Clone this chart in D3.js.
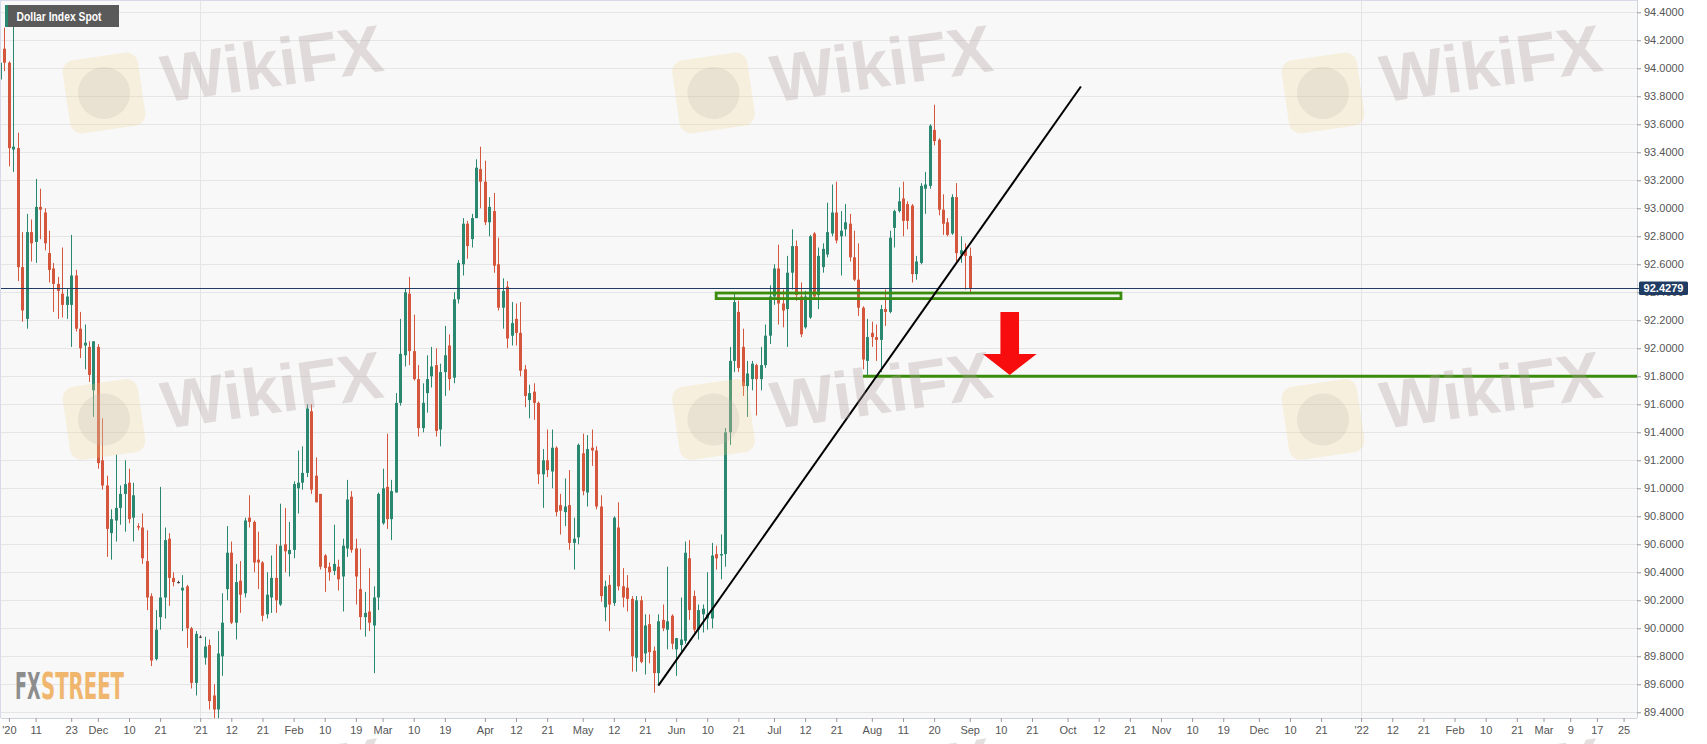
<!DOCTYPE html>
<html><head><meta charset="utf-8">
<script src="https://cdn.jsdelivr.net/npm/d3@7"></script>
<style>
html,body{margin:0;padding:0;background:#fff;}
svg{display:block;font-family:"Liberation Sans",Arial,sans-serif;}
</style></head><body>
<svg id="chart" width="1707" height="744"></svg>
<script>
// ---------------- DATA ----------------
const seriesName = "Dollar Index Spot";
const firstCandleDate = "2020-10-30";   // candles follow on consecutive weekdays
const lastPrice = 92.4279;

// Oct 30 + Nov 2020
const opens = [
 93.92,94.14,94.04,93.42,93.43,92.58,92.21,92.83,92.76,93.01,92.97,92.68,92.57,92.46,92.39,92.31,92.31,92.52,92.14,92.02,92.01,91.70,
 // Dec 2020
 92.01,91.20,91.02,90.68,90.77,90.86,90.96,91.04,90.79,90.73,90.72,90.48,90.23,89.78,90.08,90.22,90.64,90.36,90.33,90.27,90.30,90.00,89.61,
 // Jan 2021
 89.94,89.79,89.88,89.52,89.42,89.80,90.28,90.54,90.04,90.34,90.25,90.79,90.76,90.49,90.47,90.10,90.22,90.36,90.17,90.60,90.53,
 // Feb
 90.56,91.00,91.04,91.11,91.55,91.09,90.96,90.52,90.44,90.41,90.44,90.37,90.57,90.94,90.57,90.28,90.08,90.12,90.02,90.22,
 // Mar
 90.75,91.01,90.78,90.97,91.61,91.95,92.39,91.98,91.78,91.43,91.68,91.80,91.88,91.42,91.83,92.02,91.79,92.35,92.60,92.89,92.78,92.93,93.28,
 // Apr
 93.19,92.90,92.98,92.60,92.29,92.44,92.09,92.21,92.11,91.85,91.63,91.69,91.61,91.10,91.20,91.12,91.29,90.88,90.83,90.88,90.61,90.65,
 // May
 91.25,90.97,91.29,91.27,90.87,90.15,90.31,90.18,90.72,90.30,90.29,90.21,89.79,90.20,89.82,90.03,89.84,89.68,90.06,89.99,90.09,
 // Jun
 89.85,89.88,89.91,90.50,90.23,89.99,90.10,90.07,90.07,90.53,90.52,90.53,91.40,91.91,92.26,92.01,91.73,91.78,91.88,91.78,91.88,92.09,
 // Jul
 92.37,92.57,92.32,92.28,92.54,92.73,92.37,92.15,92.22,92.82,92.38,92.58,92.67,92.82,92.97,92.80,92.85,92.89,92.65,92.49,92.29,91.91,
 // Aug
 92.11,92.08,92.06,92.28,92.26,92.86,92.98,93.07,93.03,93.02,92.53,92.61,93.14,93.16,93.56,93.49,92.99,92.90,92.82,93.08,92.67,92.70,
 // Sep
 92.66
];
const highs = [
 94.10,94.29,94.05,94.31,93.54,92.83,92.96,92.92,93.21,93.14,93.00,92.84,92.61,92.51,92.72,92.43,92.81,92.56,92.26,92.17,92.05,92.05,
 92.03,91.50,91.09,90.85,91.24,91.02,91.20,91.14,91.04,90.75,90.82,90.70,90.25,90.13,91.01,90.72,90.68,90.40,90.34,90.38,90.31,90.01,89.98,
 89.95,89.94,89.92,89.60,89.98,90.25,90.73,90.62,90.46,90.48,90.79,90.95,90.77,90.69,90.48,90.40,90.52,90.60,90.89,90.86,90.76,
 91.05,91.27,91.30,91.60,91.60,91.22,90.96,90.53,90.47,90.74,90.49,90.64,91.06,90.98,90.64,90.57,90.26,90.43,90.30,90.97,
 91.14,91.39,91.06,91.68,92.21,92.43,92.51,92.24,91.88,91.75,91.95,92.01,92.00,91.89,92.16,92.10,92.40,92.63,92.93,92.91,92.96,93.35,93.44,
 93.34,93.08,93.11,92.79,92.50,92.48,92.33,92.32,92.33,91.88,91.74,91.75,91.62,91.28,91.42,91.42,91.30,90.96,91.07,91.13,90.79,91.32,
 91.39,91.38,91.42,91.30,90.95,90.34,90.38,90.80,90.90,90.43,90.38,90.23,90.23,90.23,90.10,90.10,89.87,90.10,90.17,90.44,90.10,
 89.93,90.22,90.62,90.63,90.27,90.17,90.17,90.40,90.61,90.59,90.67,91.43,92.01,92.39,92.34,92.14,91.91,91.91,91.89,92.01,92.17,92.45,
 92.60,92.74,92.42,92.66,92.85,92.77,92.47,92.41,92.81,92.83,92.72,92.75,93.04,93.17,93.19,92.98,93.03,92.96,92.84,92.75,92.30,92.21,
 92.19,92.17,92.31,92.42,92.84,92.99,93.15,93.19,93.05,93.03,92.66,93.18,93.26,93.60,93.74,93.50,93.10,92.93,93.10,93.18,92.80,92.75,
 92.72
];
const lows = [
 93.65,93.98,93.30,93.26,92.48,92.19,92.14,92.62,92.61,92.78,92.70,92.47,92.26,92.21,92.22,92.21,92.01,92.12,91.93,91.85,91.76,91.51,
 91.14,90.99,90.51,90.49,90.62,90.74,90.69,90.75,90.62,90.70,90.46,90.13,89.73,89.77,89.99,90.07,90.16,90.30,90.32,89.98,89.86,89.57,89.52,
 89.93,89.74,89.42,89.20,89.20,89.66,90.20,90.03,89.92,90.11,90.22,90.72,90.40,90.28,90.05,90.07,90.11,90.11,90.16,90.40,90.37,
 90.50,90.82,90.99,91.08,90.96,90.90,90.42,90.26,90.34,90.38,90.27,90.12,90.51,90.54,90.17,89.99,89.94,89.98,89.68,90.13,
 90.74,90.71,90.63,90.97,91.59,91.87,91.88,91.77,91.37,91.40,91.54,91.72,91.37,91.30,91.66,91.70,91.75,92.32,92.52,92.64,92.72,92.93,93.00,
 92.88,92.80,92.54,92.27,92.14,92.00,92.02,92.02,91.80,91.58,91.50,91.49,91.03,90.86,91.08,91.00,90.80,90.67,90.73,90.56,90.42,90.60,
 90.95,90.87,91.16,90.85,90.19,90.05,89.98,90.16,90.27,90.15,90.12,89.69,89.69,89.75,89.67,89.75,89.54,89.60,89.98,89.85,89.85,
 89.66,89.82,89.89,90.06,89.97,89.92,89.97,89.99,90.00,90.42,90.35,90.44,91.31,91.83,91.83,91.66,91.51,91.70,91.52,91.70,91.86,92.03,
 92.31,92.17,92.15,92.01,92.42,92.34,92.08,92.14,92.21,92.36,92.28,92.54,92.65,92.80,92.75,92.52,92.80,92.62,92.48,92.23,91.85,91.80,
 92.01,91.91,91.83,92.16,92.25,92.72,92.97,92.80,92.85,92.47,92.49,92.60,92.96,93.14,93.45,92.95,92.81,92.80,92.81,92.62,92.61,92.42,
 92.39
];
const closes = [
 94.04,94.04,93.43,93.44,92.58,92.27,92.83,92.75,93.01,92.99,92.75,92.56,92.46,92.41,92.31,92.37,92.52,92.14,92.00,92.04,91.81,92.05,
 91.18,91.02,90.71,90.78,90.86,90.96,91.03,90.78,90.95,90.72,90.50,90.22,89.77,89.99,90.22,90.63,90.36,90.33,90.33,90.29,90.00,89.61,89.96,
 89.94,89.87,89.48,89.42,89.82,90.04,90.54,90.04,90.33,90.24,90.77,90.76,90.47,90.47,90.09,90.24,90.36,90.20,90.59,90.55,90.56,
 91.03,91.04,91.11,91.57,90.99,90.90,90.44,90.43,90.40,90.46,90.35,90.59,90.92,90.56,90.37,90.08,90.11,90.04,90.22,90.96,
 91.00,90.78,90.98,91.61,91.96,92.40,91.98,91.78,91.43,91.61,91.78,91.87,91.41,91.83,91.95,91.78,92.35,92.61,92.89,92.73,92.93,93.29,93.19,
 92.90,93.01,92.59,92.29,92.41,92.07,92.18,92.11,91.84,91.66,91.68,91.61,91.10,91.20,91.13,91.29,90.83,90.84,90.87,90.61,90.64,91.31,
 90.98,91.28,91.27,90.87,90.23,90.30,90.17,90.79,90.30,90.22,90.21,89.80,90.20,89.76,90.02,89.83,89.68,90.05,90.00,90.05,89.89,
 89.93,89.92,90.54,90.13,89.99,90.13,90.14,90.10,90.52,90.50,90.53,91.40,91.91,92.33,91.86,91.73,91.82,91.89,91.78,91.88,92.09,92.37,
 92.57,92.32,92.27,92.54,92.73,92.38,92.10,92.37,92.80,92.37,92.66,92.71,92.83,92.97,92.77,92.84,92.90,92.65,92.49,92.29,91.92,92.08,
 92.08,92.06,92.28,92.26,92.79,92.98,93.05,92.91,92.91,92.53,92.62,93.16,93.17,93.59,93.48,92.99,92.89,92.81,93.08,92.68,92.70,92.66,
 92.4279
];

const yTicks = [89.4,89.6,89.8,90.0,90.2,90.4,90.6,90.8,91.0,91.2,91.4,91.6,91.8,92.0,92.2,92.4,92.6,92.8,93.0,93.2,93.4,93.6,93.8,94.0,94.2,94.4];
const xTickDates = ["2020-11-03","2020-11-11","2020-11-23","2020-12-01","2020-12-10","2020-12-21",
 "2021-01-01","2021-01-12","2021-01-21","2021-02-01","2021-02-10","2021-02-19","2021-03-01","2021-03-10","2021-03-19",
 "2021-04-01","2021-04-12","2021-04-21","2021-05-03","2021-05-12","2021-05-21","2021-06-01","2021-06-10","2021-06-21",
 "2021-07-01","2021-07-12","2021-07-21","2021-08-02","2021-08-11","2021-08-20","2021-09-01","2021-09-10","2021-09-21",
 "2021-10-01","2021-10-12","2021-10-21","2021-11-01","2021-11-10","2021-11-19","2021-12-01","2021-12-10","2021-12-21",
 "2022-01-03","2022-01-12","2022-01-21","2022-02-01","2022-02-10","2022-02-21","2022-03-01","2022-03-09","2022-03-17","2022-03-25"];
const xTickLabels = ["'20","11","23","Dec","10","21",
 "'21","12","21","Feb","10","19","Mar","10","19",
 "Apr","12","21","May","12","21","Jun","10","21",
 "Jul","12","21","Aug","11","20","Sep","10","21",
 "Oct","12","21","Nov","10","19","Dec","10","21",
 "'22","12","21","Feb","10","21","Mar","9","17","25"];
const yearLines = ["2021-01-01","2022-01-03"];

// drawn annotations (in data units)
const supportZone = {from:"2021-06-14", to:"2021-10-19", low:92.355, high:92.395};
const supportLine = {from:"2021-07-29", level:91.80};
const trendLine = [{date:"2021-05-26", value:89.59},{date:"2021-10-06", value:93.87}];
const downArrow = {date:"2021-09-14", top:92.26, base:91.96, tip:91.81};

// ---------------- HELPERS ----------------
const BASE = Date.UTC(2021,0,1);
function parseUTC(s){const [Y,M,D]=s.split('-').map(Number);return Date.UTC(Y,M-1,D);}
function isWeekday(t){const w=new Date(t).getUTCDay();return w!==0&&w!==6;}
function wdIndex(s){ // weekday offset from 2021-01-01
  const t=parseUTC(s); let n=0;
  if(t>=BASE){for(let d=BASE;d<t;d+=864e5) if(isWeekday(d)) n++;}
  else{for(let d=BASE-864e5;d>=t;d-=864e5) if(isWeekday(d)) n--;}
  return n;
}
const startIdx = wdIndex(firstCandleDate);
const candles = closes.map((c,i)=>({i:startIdx+i,o:opens[i],h:highs[i],l:lows[i],c:c}));

// ---------------- LAYOUT ----------------
const W=1707,H=744, PL=1, PT=1, PR=1637, PB=718;
const x = d3.scaleLinear().domain([-44.78, 323.02]).range([PL, PR]);
const y = d3.scaleLinear().domain([89.4, 94.4]).range([712.3, 12.3]);

const UP="#2b8870", DN="#d4573d", NAVY="#203c63", GRID="#e5e5e5", GREEN="#3b8b0c";
const svg = d3.select("#chart");

svg.append("rect").attr("x",0).attr("y",0).attr("width",W).attr("height",H).attr("fill","#fff");
svg.append("rect").attr("x",PL).attr("y",PT).attr("width",PR-PL).attr("height",PB-PT).attr("fill","#f8f8f8");

const defs = svg.append("defs");
defs.append("clipPath").attr("id","plotclip").append("rect")
  .attr("x",PL).attr("y",PT).attr("width",PR-PL).attr("height",PB-PT);

// grid
const grid = svg.append("g");
grid.selectAll("line.h").data(yTicks).join("line")
  .attr("x1",PL).attr("x2",PR).attr("y1",d=>Math.round(y(d))+0.5).attr("y2",d=>Math.round(y(d))+0.5)
  .attr("stroke",GRID).attr("stroke-width",1);
grid.selectAll("line.v").data(yearLines).join("line")
  .attr("x1",d=>Math.round(x(wdIndex(d)))+0.5).attr("x2",d=>Math.round(x(wdIndex(d)))+0.5)
  .attr("y1",PT).attr("y2",PB).attr("stroke",GRID).attr("stroke-width",1);

// plot frame
svg.append("line").attr("x1",PL).attr("x2",PR).attr("y1",0.5).attr("y2",0.5).attr("stroke","#d9d9ea");
svg.append("line").attr("x1",0.5).attr("x2",0.5).attr("y1",0).attr("y2",PB).attr("stroke","#d9d9ea");
svg.append("line").attr("x1",PR+0.5).attr("x2",PR+0.5).attr("y1",0).attr("y2",PB).attr("stroke","#cfd3da");
svg.append("line").attr("x1",PL).attr("x2",PR).attr("y1",PB+0.5).attr("y2",PB+0.5).attr("stroke","#cfd3da");

// candles
const cg = svg.append("g").attr("clip-path","url(#plotclip)");
const col = d=> d.c>d.o?UP:(d.c<d.o?DN:"#444");
cg.selectAll("line.wick").data(candles).join("line")
  .attr("x1",d=>Math.round(x(d.i))+0.5).attr("x2",d=>Math.round(x(d.i))+0.5)
  .attr("y1",d=>y(d.h)).attr("y2",d=>y(d.l)).attr("stroke",col).attr("stroke-width",1);
cg.selectAll("rect.body").data(candles).join("rect")
  .attr("x",d=>Math.round(x(d.i))-1).attr("width",3)
  .attr("y",d=>y(Math.max(d.o,d.c)))
  .attr("height",d=>Math.max(1,Math.abs(y(d.o)-y(d.c))))
  .attr("fill",col);

// last price line
cg.append("line").attr("x1",PL).attr("x2",PR).attr("y1",Math.round(y(lastPrice))+0.5).attr("y2",Math.round(y(lastPrice))+0.5)
  .attr("stroke",NAVY).attr("stroke-width",1);

// annotations
const ag = svg.append("g").attr("clip-path","url(#plotclip)");
ag.append("rect")
  .attr("x",x(wdIndex(supportZone.from))).attr("y",y(supportZone.high))
  .attr("width",x(wdIndex(supportZone.to))-x(wdIndex(supportZone.from)))
  .attr("height",y(supportZone.low)-y(supportZone.high))
  .attr("fill","rgba(150,210,110,0.12)").attr("stroke",GREEN).attr("stroke-width",2.8);
ag.append("line")
  .attr("x1",x(wdIndex(supportLine.from))).attr("x2",PR)
  .attr("y1",y(supportLine.level)).attr("y2",y(supportLine.level))
  .attr("stroke",GREEN).attr("stroke-width",3);
ag.append("line")
  .attr("x1",x(wdIndex(trendLine[0].date))).attr("y1",y(trendLine[0].value))
  .attr("x2",x(wdIndex(trendLine[1].date))).attr("y2",y(trendLine[1].value))
  .attr("stroke","#000").attr("stroke-width",2);
{
  const cx = x(wdIndex(downArrow.date)), sw=9.3, hw=26.9;
  const yt=y(downArrow.top), yb=y(downArrow.base), yp=y(downArrow.tip);
  ag.append("path")
    .attr("d",`M${cx-sw},${yt}L${cx+sw},${yt}L${cx+sw},${yb}L${cx+hw},${yb}L${cx},${yp}L${cx-hw},${yb}L${cx-sw},${yb}Z`)
    .attr("fill","#f70d0d");
}

// WikiFX watermarks (drawn before axes/labels)
const wmX=[104,713.5,1323], wmY=[93,419.5,806];
const wm = svg.append("g").style("pointer-events","none");
wmY.forEach(cy=>wmX.forEach(cx=>{
  const g = wm.append("g").attr("transform",`translate(${cx},${cy}) rotate(-8.3)`);
  g.append("rect").attr("x",-38).attr("y",-37).attr("width",76).attr("height",74).attr("rx",12)
    .attr("fill","#f2d58a").attr("opacity",0.24);
  g.append("circle").attr("cx",0).attr("cy",0).attr("r",26).attr("fill","#b9b3ae").attr("opacity",0.22);
  g.append("text").attr("x",59).attr("y",18.3).attr("fill","#b09c9c").attr("opacity",0.32)
    .style("font-size","67px").style("font-weight","bold").text("WikiFX");
}));

// y axis
const yAxis = d3.axisRight(y).tickValues(yTicks).tickSize(4).tickPadding(3).tickFormat(d3.format(".4f"));
const yg = svg.append("g").attr("transform",`translate(${PR},0)`).call(yAxis);
yg.select(".domain").remove();
yg.selectAll(".tick line").attr("stroke","#999");
yg.selectAll(".tick text").attr("fill","#555").style("font-size","11px").style("font-family","'Liberation Sans',Arial,sans-serif");

// last price label
{
  const yy = y(lastPrice);
  svg.append("line").attr("x1",PR).attr("x2",PR+4).attr("y1",Math.round(yy)+0.5).attr("y2",Math.round(yy)+0.5).attr("stroke",NAVY);
  svg.append("rect").attr("x",PR+2).attr("y",yy-6.8).attr("width",49).attr("height",13.5).attr("rx",1.5).attr("fill",NAVY);
  svg.append("text").attr("x",PR+26.5).attr("y",yy+4).attr("text-anchor","middle")
    .attr("fill","#fff").style("font-size","11px").style("font-weight","bold").text(d3.format(".4f")(lastPrice));
}

// x axis
const xAxis = d3.axisBottom(x).tickValues(xTickDates.map(wdIndex)).tickSize(4).tickPadding(4)
  .tickFormat((d,i)=>xTickLabels[i]);
const xg = svg.append("g").attr("transform",`translate(0,${PB})`).call(xAxis);
xg.select(".domain").remove();
xg.selectAll(".tick line").attr("stroke","#999");
xg.selectAll(".tick text").attr("fill","#555").style("font-size","11px").style("font-family","'Liberation Sans',Arial,sans-serif");

// series name label
svg.append("rect").attr("x",5).attr("y",5).attr("width",114).attr("height",22).attr("fill","#5a5a5a");
svg.append("rect").attr("x",5).attr("y",5).attr("width",3).attr("height",22).attr("fill",UP);
svg.append("text").attr("x",16.5).attr("y",20.5).attr("fill","#fff")
  .style("font-size","12px").style("font-weight","bold").attr("textLength",85).attr("lengthAdjust","spacingAndGlyphs")
  .text(seriesName);

// FXSTREET logo
svg.append("text").attr("x",15).attr("y",698.5).attr("fill","#8d8d8d")
  .style("font-family","'Liberation Sans Narrow','DejaVu Sans Condensed',sans-serif").style("font-weight","bold").style("font-size","37px")
  .attr("textLength",25.5).attr("lengthAdjust","spacingAndGlyphs").text("FX");
svg.append("text").attr("x",41).attr("y",698.5).attr("fill","#f0b66d")
  .style("font-family","'Liberation Sans Narrow','DejaVu Sans Condensed',sans-serif").style("font-weight","bold").style("font-size","37px")
  .attr("textLength",83).attr("lengthAdjust","spacingAndGlyphs").text("STREET");
</script>
</body></html>
